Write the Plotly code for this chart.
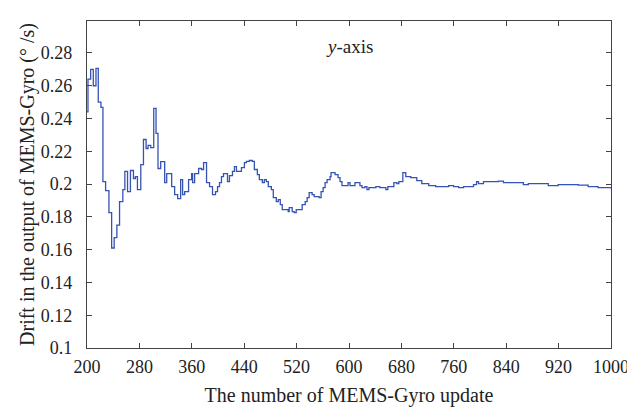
import plotly.graph_objects as go

# step points of the drift estimate (update number, drift in deg/s)
updates = [200, 201.5, 205.6, 209.6, 213.7, 217.2, 221.3, 224.3, 228.4, 233.5,
           237.6, 241.5, 245.6, 249.7, 254.7, 257.8, 261.9, 266.3, 270.9, 273.9,
           277.0, 282.1, 286.2, 290.2, 293.2, 297.3, 301.9, 305.4, 308.4, 312.5,
           318.6, 321.7, 329.3, 333.8, 338.4, 343.0, 346.0, 349.1, 355.1, 359.7,
           361.2, 364.3, 370.4, 374.9, 378.0, 382.5, 387.1, 391.6, 396.2, 399.3,
           402.3, 405.3, 408.4, 414.5, 417.5, 422.1, 425.1, 428.2, 432.7, 435.8,
           440.3, 443.4, 447.9, 452.5, 455.5, 460.1, 463.1, 467.7, 470.7, 473.8,
           476.8, 481.4, 484.4, 489.0, 492.0, 495.1, 498.1, 507.2, 508.7, 513.3,
           516.4, 519.4, 528.5, 533.1, 536.1, 539.2, 543.7, 546.8, 554.4, 557.4,
           560.5, 563.5, 566.6, 571.1, 572.6, 578.7, 583.3, 586.3, 589.3, 598.5,
           601.5, 609.1, 616.7, 619.8, 624.3, 627.4, 630.4, 641.0, 647.1, 656.3,
           659.3, 668.5, 673.0, 676.1, 682.2, 686.7, 694.3, 703.5, 711.1, 721.7,
           732.4, 752.1, 759.7, 767.3, 774.9, 790.1, 794.7, 797.7, 805.3, 828.2,
           835.8, 855.6, 866.2, 873.8, 904.2, 919.4, 949.9, 965.1, 980.3, 1000]
drift = [0.244, 0.264, 0.270, 0.260, 0.2706, 0.250, 0.2468, 0.2015, 0.196, 0.1826,
         0.161, 0.1673, 0.175, 0.1893, 0.1966, 0.2077, 0.1954, 0.2083, 0.2034, 0.2046,
         0.1966, 0.2119, 0.2272, 0.2217, 0.2236, 0.2223, 0.2462, 0.2309, 0.2095, 0.2137,
         0.2009, 0.2064, 0.1985, 0.1936, 0.1911, 0.2027, 0.1936, 0.1954, 0.2027, 0.2064,
         0.2009, 0.2064, 0.2095, 0.2089, 0.2131, 0.2009, 0.1985, 0.1936, 0.1954, 0.1985,
         0.2009, 0.2046, 0.2064, 0.2015, 0.2052, 0.2077, 0.2107, 0.2077, 0.2077, 0.2101,
         0.2131, 0.2138, 0.2144, 0.2138, 0.2089, 0.2058, 0.2027, 0.2009, 0.2027, 0.2015,
         0.1985, 0.1966, 0.1917, 0.1893, 0.1905, 0.1875, 0.1844, 0.1832, 0.1856, 0.1832,
         0.1826, 0.1844, 0.1875, 0.1893, 0.1917, 0.1948, 0.1936, 0.1923, 0.1917, 0.1954,
         0.1979, 0.2009, 0.2027, 0.2046, 0.2070, 0.2058, 0.2040, 0.2015, 0.1991, 0.2009,
         0.1991, 0.2009, 0.1991, 0.1979, 0.1985, 0.1966, 0.1979, 0.1985, 0.1979, 0.1966,
         0.1985, 0.2009, 0.2003, 0.2015, 0.2070, 0.2046, 0.2040, 0.2021, 0.2003, 0.1991,
         0.1985, 0.1991, 0.1985, 0.1979, 0.1985, 0.1997, 0.2015, 0.2003, 0.2015, 0.2018,
         0.2009, 0.2009, 0.1997, 0.2003, 0.1991, 0.1997, 0.1994, 0.1985, 0.1979, 0.1973]

x_ticks = [200, 280, 360, 440, 520, 600, 680, 760, 840, 920, 1000]
y_ticks = [0.1, 0.12, 0.14, 0.16, 0.18, 0.2, 0.22, 0.24, 0.26, 0.28]
y_labels = ['0.1', '0.12', '0.14', '0.16', '0.18', '0.2', '0.22', '0.24', '0.26', '0.28']

LINE_COLOR = '#3553b3'
AXIS_COLOR = '#444444'
TEXT_COLOR = '#222222'
FONT = 'Liberation Serif'

fig = go.Figure()
fig.add_trace(go.Scatter(x=updates, y=drift, mode='lines',
                         line=dict(color=LINE_COLOR, width=1.3, shape='hv'),
                         showlegend=False))

fig.add_annotation(x=600, y=0.284, text='<i>y</i>-axis', showarrow=False,
                   font=dict(family=FONT, size=19, color=TEXT_COLOR))

axis_common = dict(showline=True, linecolor=AXIS_COLOR, linewidth=1.2, mirror='ticks',
                   ticks='inside', ticklen=5, tickcolor=AXIS_COLOR, showgrid=False,
                   zeroline=False, automargin=False,
                   tickfont=dict(family=FONT, size=18, color=TEXT_COLOR))

fig.update_xaxes(range=[200, 1000], tickvals=x_ticks, ticklabelstandoff=2,
                 title=dict(text='The number of MEMS-Gyro update', standoff=14,
                            font=dict(family=FONT, size=20, color=TEXT_COLOR)),
                 **axis_common)
fig.update_yaxes(range=[0.1, 0.2995], tickvals=y_ticks, ticktext=y_labels,
                 ticklabelstandoff=10,
                 title=dict(text='Drift in the output of MEMS-Gyro (° /s)', standoff=0,
                            font=dict(family=FONT, size=20, color=TEXT_COLOR)),
                 **axis_common)

# the page body adds an 8px margin on each side, so the figure is sized to
# fit inside the window without scrollbars
fig.update_layout(width=627, height=399, plot_bgcolor='white', paper_bgcolor='white',
                  margin=dict(l=79, r=24, t=13, b=59))

fig.write_html("out.html")
